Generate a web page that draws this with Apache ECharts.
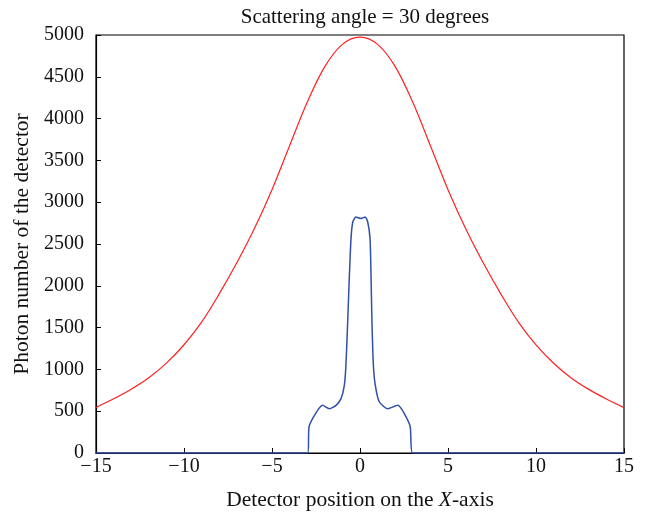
<!DOCTYPE html>
<html>
<head>
<meta charset="utf-8">
<script src="https://cdn.jsdelivr.net/npm/echarts@6/dist/echarts.min.js"></script>
<style>html,body{margin:0;padding:0;background:#fff}#c{width:657px;height:516px}</style>
</head>
<body>
<div id="c"></div>
<script>
const titleText = 'Scattering angle = 30 degrees';
const xTicks = [-15, -10, -5, 0, 5, 10, 15];
const yTicks = [0, 500, 1000, 1500, 2000, 2500, 3000, 3500, 4000, 4500, 5000];

const redX = [-15, -14, -13, -12, -11, -10, -9, -8, -7, -6, -5, -4, -3, -2, -1, 0, 1, 2, 3, 4, 5, 6, 7, 8, 9, 10, 11, 12, 13, 14, 15];
const redY = [545, 648, 763, 900, 1075, 1295, 1565, 1903, 2275, 2685, 3150, 3675, 4195, 4622, 4888, 4975, 4888, 4622, 4195, 3675, 3150, 2685, 2275, 1903, 1565, 1293, 1073, 898, 761, 646, 543];

const blueX = [-15, -2.97, -2.88, -2.12, -1.74, -1.36, -1.08, -0.89, -0.80, -0.70, -0.61, -0.51, -0.41, -0.23, 0.06, 0.30, 0.44, 0.57, 0.63, 0.68, 0.76, 0.87, 1.10, 1.57, 2.14, 2.84, 2.99, 15];
const blueY = [0, 0, 327, 570, 530, 570, 650, 810, 1050, 1567, 2086, 2565, 2763, 2823, 2805, 2823, 2763, 2565, 2086, 1567, 1050, 810, 610, 530, 570, 327, 0, 0];

const font = 'Liberation Serif, Times New Roman, serif';
const chart = echarts.init(document.getElementById('c'), null, {renderer: 'canvas'});
chart.setOption({
  animation: false,
  backgroundColor: '#fff',
  title: {
    text: titleText, left: 360, top: 2, textAlign: 'center',
    textStyle: {fontFamily: font, fontSize: 21, fontWeight: 'normal', color: '#111'}
  },
  grid: {left: 96, right: 33, top: 35, bottom: 63, show: true, borderColor: '#000', borderWidth: 1.2, backgroundColor: 'transparent'},
  xAxis: {
    type: 'value', min: xTicks[0], max: xTicks[xTicks.length - 1], interval: 5,
    name: 'Detector position on the {i|X}-axis', nameLocation: 'middle', nameGap: 36,
    nameTextStyle: {fontFamily: font, fontSize: 21.5, color: '#111', rich: {i: {fontFamily: font, fontSize: 21.5, fontStyle: 'italic', color: '#111'}}},
    axisLine: {onZero: false, lineStyle: {color: '#000', width: 1.2}},
    axisTick: {inside: true, length: 5, lineStyle: {color: '#000'}},
    axisLabel: {fontFamily: font, fontSize: 20, color: '#111', margin: 4, formatter: v => (v < 0 ? '\u2212' + Math.abs(v) : '' + v)},
    splitLine: {show: false}
  },
  yAxis: {
    type: 'value', min: yTicks[0], max: yTicks[yTicks.length - 1], interval: 500,
    name: 'Photon number of the detector', nameLocation: 'middle', nameGap: 57,
    nameTextStyle: {fontFamily: font, fontSize: 21.5, color: '#111'},
    axisLine: {show: true, onZero: false, lineStyle: {color: '#000', width: 1.2}},
    axisTick: {inside: true, length: 5, lineStyle: {color: '#000'}},
    axisLabel: {fontFamily: font, fontSize: 20, color: '#111', margin: 12, formatter: v => '' + v},
    splitLine: {show: false}
  },
  series: [
    {
      type: 'line', data: redX.map((x, i) => [x, redY[i]]), showSymbol: false, smooth: 0.35,
      lineStyle: {color: '#ff2020', width: 1.2}
    },
    {
      type: 'line', data: blueX.map((x, i) => [x, blueY[i]]), showSymbol: false, smooth: 0.2,
      lineStyle: {color: '#2f4fa8', width: 1.5}
    }
  ]
});
</script>
</body>
</html>
